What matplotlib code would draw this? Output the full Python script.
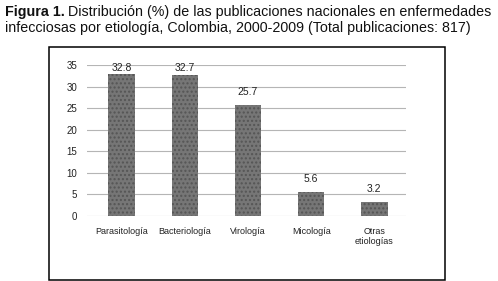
#!/usr/bin/env python3

import matplotlib
matplotlib.use("Agg")
import matplotlib.pyplot as plt
from matplotlib.patches import Rectangle

categorias = ["Parasitología", "Bacteriología", "Virología", "Micología", "Otras\netiologías"]
porcentajes = [32.8, 32.7, 25.7, 5.6, 3.2]
yticks = [0, 5, 10, 15, 20, 25, 30, 35]

plt.rcParams['font.family'] = ['Liberation Sans', 'DejaVu Sans']

fig = plt.figure(figsize=(4.98, 2.81), dpi=100)
ax = fig.add_axes([0.1747, 0.2313, 0.815 - 0.1747, 0.7687 - 0.2313])

x = range(len(categorias))
ax.bar(x, porcentajes, width=0.42, color='#767676', edgecolor='#555555',
       hatch='....', linewidth=0, zorder=3)
for xi, v in zip(x, porcentajes):
    # etiquetas sobre las barras (las mas altas quedan pegadas al borde)
    ax.text(xi, min(v + 1.8, 33.2), f"{v:.1f}", ha='center', va='bottom',
            fontsize=7.5, color='#222222')

ax.set_ylim(0, 35)
ax.set_xlim(-0.55, 4.5)
ax.set_yticks(yticks)
ax.set_xticks(list(x))
ax.set_xticklabels(categorias, fontsize=6.5, color='#222222', linespacing=1.1)
ax.tick_params(axis='y', length=0, labelsize=7, pad=7, colors='#222222')
ax.tick_params(axis='x', length=0, pad=8)
ax.yaxis.grid(True, color='#b5b5b5', linewidth=0.8)
ax.set_axisbelow(True)
for s in ax.spines.values():
    s.set_visible(False)

# marco alrededor del grafico
fig.patches.append(Rectangle((49 / 498, 1 - 280 / 281), (445 - 49) / 498, (280 - 47) / 281,
                             transform=fig.transFigure, fill=False, edgecolor='black',
                             linewidth=1.1))

# titulo en dos partes: negrita + normal
t1 = fig.text(5 / 498, 1 - 5 / 281, "Figura 1.", fontsize=10.3, fontweight='bold',
              va='top', ha='left', color='#111111')
fig.canvas.draw()
bb = t1.get_window_extent()
x2 = (bb.x1 + 3) / fig.bbox.width
fig.text(x2, 1 - 5 / 281, "Distribución (%) de las publicaciones nacionales en enfermedades",
         fontsize=10.3, va='top', ha='left', color='#111111')
fig.text(5 / 498, 1 - 21 / 281,
         "infecciosas por etiología, Colombia, 2000-2009 (Total publicaciones: 817)",
         fontsize=10.3, va='top', ha='left', color='#111111')

fig.savefig("out.png", dpi=100)
